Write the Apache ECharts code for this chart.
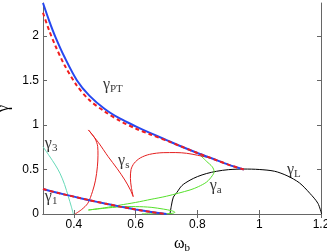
<!DOCTYPE html>
<html><head><meta charset="utf-8">
<script src="https://cdn.jsdelivr.net/npm/echarts@6/dist/echarts.min.js"></script>
<style>html,body{margin:0;padding:0;background:#fff}#c{width:327px;height:252px}</style>
</head><body><div id="c"></div>
<script>
// gamma_PT (blue solid)
const ptX = [0.30,0.32,0.34,0.37,0.41,0.45,0.50,0.55,0.60,0.65,0.70,0.75,0.80,0.85,0.90,0.95];
const ptY = [2.37,2.17,1.99,1.76,1.50,1.33,1.18,1.07,0.985,0.905,0.83,0.755,0.685,0.62,0.555,0.50];
// red dashed companion of gamma_PT
const ptdX = [0.30,0.32,0.34,0.37,0.41,0.45,0.50,0.55,0.60,0.65,0.70,0.75,0.80,0.85,0.90,0.95];
const ptdY = [2.26,2.06,1.89,1.67,1.44,1.28,1.15,1.045,0.96,0.89,0.825,0.755,0.685,0.62,0.555,0.50];
// gamma_1
const g1X = [0.30,0.35,0.40,0.45,0.50,0.55,0.60,0.65,0.70];
const g1Y = [0.28,0.235,0.195,0.155,0.118,0.083,0.05,0.022,0.0];
// gamma_3
const g3X = [0.300,0.320,0.340,0.355,0.370,0.382,0.392,0.398];
const g3Y = [0.756,0.655,0.55,0.457,0.33,0.195,0.08,0.0];
// gamma_s (three branches)
const gsAX = [0.404,0.425,0.445,0.460,0.470,0.476,0.478,0.477,0.468,0.447];
const gsAY = [0.0,0.05,0.12,0.25,0.38,0.53,0.66,0.76,0.85,0.944];
const gsBX = [0.447,0.480,0.511,0.540,0.565,0.583,0.592];
const gsBY = [0.944,0.80,0.644,0.51,0.382,0.27,0.195];
const gsCX = [0.592,0.586,0.583,0.585,0.595,0.615,0.645,0.689,0.730,0.765,0.800,0.840];
const gsCY = [0.195,0.30,0.40,0.50,0.57,0.63,0.67,0.689,0.69,0.682,0.66,0.63];
// gamma_a (upper and lower green branches)
const gaUX = [0.447,0.500,0.549,0.600,0.650,0.700,0.776,0.803,0.830,0.848,0.854,0.848,0.830,0.805];
const gaUY = [0.045,0.07,0.10,0.13,0.165,0.20,0.27,0.307,0.36,0.43,0.475,0.53,0.59,0.675];
const gaLX = [0.447,0.500,0.550,0.600,0.650,0.690,0.715,0.727,0.720,0.700,0.660,0.620];
const gaLY = [0.045,0.065,0.08,0.083,0.075,0.055,0.038,0.02,0.008,0.004,0.002,0.001];
// gamma_L
const gLX = [0.711,0.716,0.722,0.733,0.750,0.776,0.800,0.830,0.862,0.900,0.950,1.000,1.050,1.090,1.130,1.164,1.190,1.202];
const gLY = [0.0,0.10,0.19,0.24,0.32,0.38,0.42,0.455,0.48,0.498,0.505,0.50,0.48,0.43,0.35,0.232,0.12,0.0];
// ticks
const xTicks = [0.4,0.6,0.8,1,1.2];
const yTicks = [0,0.5,1,1.5,2];
// curve labels: [x, y, main, subscript]
const curveLabels = [
  [0.494,1.449,'γ','PT'],
  [0.306,0.787,'γ','3'],
  [0.306,0.19,'γ','1'],
  [0.543,0.596,'γ','s'],
  [0.840,0.315,'γ','a'],
  [1.090,0.494,'γ','L']
];

const zip = (xs, ys) => xs.map((x, i) => [x, ys[i]]);
function line(xs, ys, color, width, extra) {
  return Object.assign({
    type: 'line', data: zip(xs, ys), showSymbol: false, symbol: 'none',
    lineStyle: { color: color, width: width }, smooth: 0.3, silent: true, z: 2
  }, extra || {});
}
const chart = echarts.init(document.getElementById('c'));
const axisCol = '#666';
const tickFont = { color: '#000', fontFamily: 'Liberation Sans', fontSize: 12 };
chart.setOption({
  animation: false,
  grid: { left: 43, right: 6, top: 3, bottom: 38, containLabel: false, outerBoundsMode: 'none' },
  xAxis: [{
    type: 'value', min: 0.3, max: 1.2,
    axisLine: { lineStyle: { color: axisCol } },
    axisTick: { inside: true, length: 4, customValues: xTicks, lineStyle: { color: axisCol } },
    axisLabel: Object.assign({ customValues: xTicks, margin: 5, formatter: v => String(v) }, tickFont),
    splitLine: { show: false },
    name: '{w|ω}{b|b}', nameLocation: 'middle', nameGap: 17,
    nameTextStyle: { rich: {
      w: { fontFamily: 'Liberation Serif', fontSize: 16, color: '#000' },
      b: { fontFamily: 'Liberation Serif', fontSize: 11, color: '#000', padding: [8, 0, 0, 0] }
    } }
  }, {
    type: 'value', min: 0.3, max: 1.2, position: 'top',
    axisLine: { show: true, lineStyle: { color: axisCol } },
    axisTick: { inside: true, length: 4, customValues: xTicks, lineStyle: { color: axisCol } },
    axisLabel: { show: false }, splitLine: { show: false }
  }],
  yAxis: [{
    type: 'value', min: 0, max: 2.37,
    axisLine: { show: true, lineStyle: { color: axisCol } },
    axisTick: { show: true, inside: true, length: 4, customValues: yTicks, lineStyle: { color: axisCol } },
    axisLabel: Object.assign({ customValues: yTicks, margin: 4, formatter: v => String(v) }, tickFont),
    splitLine: { show: false },
    name: 'γ', nameLocation: 'middle', nameGap: 24, nameRotate: 90,
    nameTextStyle: { fontFamily: 'Liberation Serif', fontSize: 16, color: '#000' }
  }, {
    type: 'value', min: 0, max: 2.37, position: 'right',
    axisLine: { show: true, lineStyle: { color: axisCol } },
    axisTick: { show: true, inside: true, length: 4, customValues: yTicks, lineStyle: { color: axisCol } },
    axisLabel: { show: false }, splitLine: { show: false }
  }],
  series: [
    line(g3X, g3Y, '#66d9b8', 1),
    line(gLX, gLY, '#000', 1),
    line(gaUX, gaUY, '#55e02a', 1),
    line(gaLX, gaLY, '#55e02a', 1),
    line(gsAX, gsAY, '#e41e1e', 1),
    line(gsBX, gsBY, '#e41e1e', 1),
    line(gsCX, gsCY, '#e41e1e', 1),
    line(ptX, ptY, '#2648f0', 2, { z: 3 }),
    line(ptdX, ptdY, '#f01e1e', 2, { z: 4, lineStyle: { color: '#f01e1e', width: 2, type: [4, 3] } }),
    line(g1X, g1Y, '#2648f0', 2, { z: 3, smooth: 0.2 }),
    line(g1X, g1Y, '#f01e1e', 2, { z: 4, smooth: 0.2, lineStyle: { color: '#f01e1e', width: 2, type: [4, 3] } }),
    {
      type: 'scatter', symbolSize: 0, silent: true, z: 5,
      data: curveLabels.map(d => ({ value: [d[0], d[1]], m: d[2], s: d[3] })),
      label: {
        show: true, position: 'right', distance: 0,
        formatter: p => '{m|' + p.data.m + '}{s|' + p.data.s + '}',
        rich: {
          m: { fontFamily: 'Liberation Serif', fontSize: 16, color: '#000' },
          s: { fontFamily: 'Liberation Serif', fontSize: 11, color: '#000', padding: [8, 0, 0, 0] }
        }
      }
    }
  ]
});
</script></body></html>
